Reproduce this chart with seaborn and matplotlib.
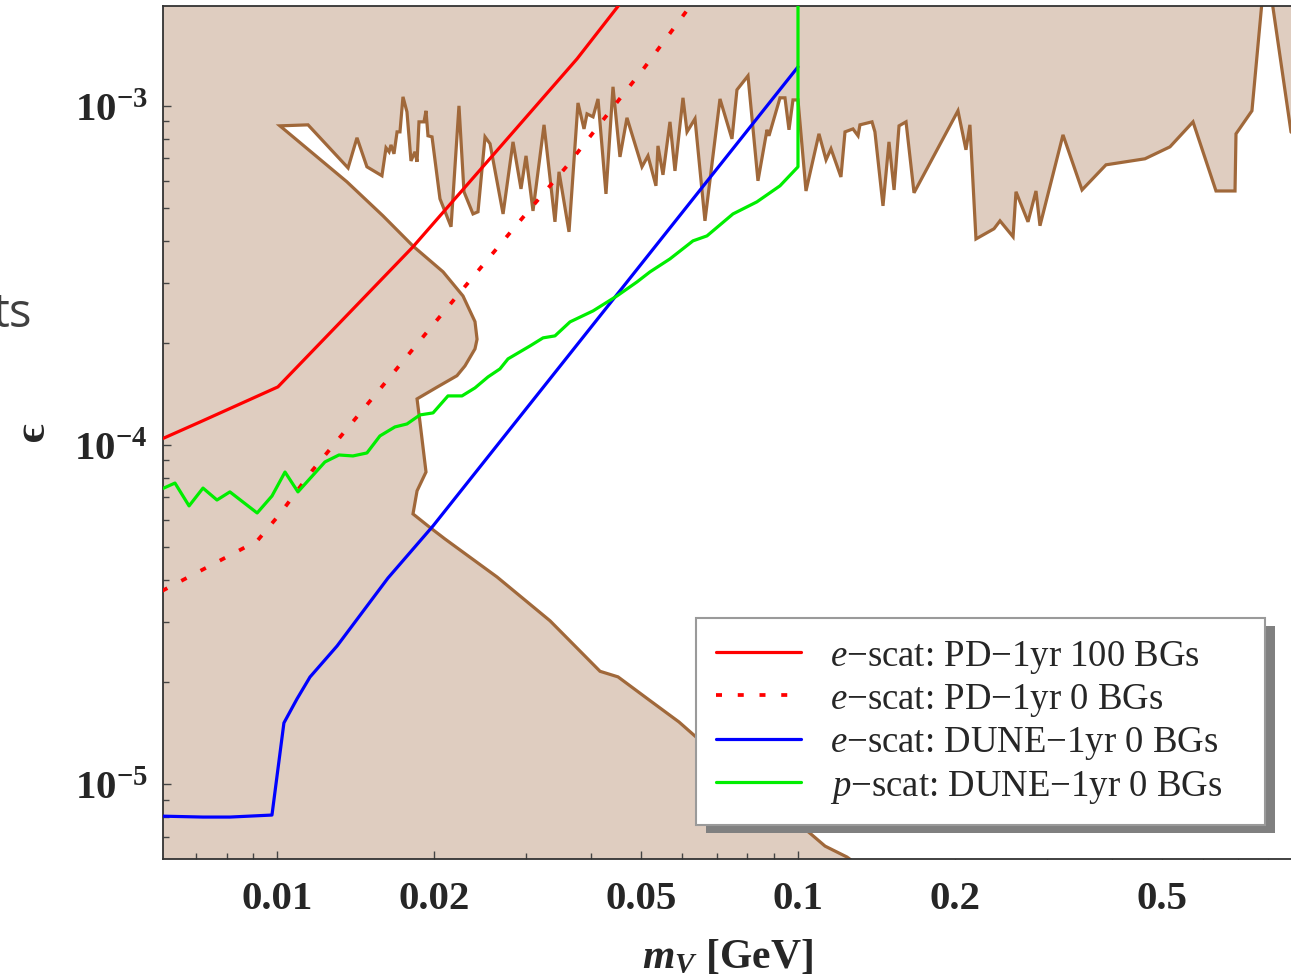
import numpy as np
import pandas as pd
import matplotlib
matplotlib.use("Agg")
import matplotlib.pyplot as plt
import seaborn as sns
from matplotlib.ticker import FixedLocator, NullFormatter
from matplotlib.patches import Rectangle
from matplotlib.transforms import IdentityTransform

# ---------------- data (m_V in GeV, epsilon) ----------------
upper_m = [0.01013, 0.01147, 0.01369, 0.01424, 0.01488, 0.01590, 0.01619, 0.01641, 0.01655, 0.01677,
           0.01700, 0.01722, 0.01745, 0.01776, 0.01808, 0.01840, 0.01857, 0.01873, 0.01915, 0.01932,
           0.01949, 0.01984, 0.02055, 0.02158, 0.02235, 0.02285, 0.02378, 0.02431, 0.02508, 0.02564,
           0.02716, 0.02838, 0.02940, 0.03006, 0.03100, 0.03255, 0.03416, 0.03478, 0.03635, 0.03782,
           0.03884, 0.03936, 0.04042, 0.04132, 0.04280, 0.04415, 0.04553, 0.04696, 0.05018, 0.05153,
           0.05338, 0.05386, 0.05506, 0.05679, 0.05806, 0.06015, 0.06124, 0.06343, 0.06629, 0.07084,
           0.07469, 0.07636, 0.08017, 0.08379, 0.08720, 0.08797, 0.09236, 0.09441, 0.09610, 0.09781,
           0.1000, 0.1036, 0.1097, 0.1132, 0.1157, 0.1209, 0.1231, 0.1275, 0.1304, 0.1315,
           0.1387, 0.1405, 0.1456, 0.1495, 0.1529, 0.1563, 0.1612, 0.1670, 0.2028, 0.2101,
           0.2138, 0.2196, 0.2378, 0.2442, 0.2587, 0.2621, 0.2764, 0.2863, 0.2914, 0.3226,
           0.3509, 0.3901, 0.4634, 0.5176, 0.5731, 0.6344, 0.6900, 0.6930, 0.7436, 0.7910, 0.8837,
           1.0]
upper_eps = [8.73e-4, 8.79e-4, 6.56e-4, 8.05e-4, 6.61e-4, 6.22e-4, 7.52e-4, 7.32e-4, 7.67e-4, 7.22e-4,
             8.38e-4, 8.38e-4, 1.063e-3, 9.60e-4, 6.88e-4, 7.32e-4, 6.84e-4, 8.97e-4, 8.97e-4, 9.67e-4,
             8.16e-4, 8.10e-4, 5.32e-4, 4.40e-4, 1.0e-3, 5.58e-4, 4.80e-4, 4.87e-4, 8.10e-4, 7.73e-4,
             4.80e-4, 7.83e-4, 5.69e-4, 7.12e-4, 4.90e-4, 8.79e-4, 4.55e-4, 6.39e-4, 4.25e-4, 1.020e-3,
             8.55e-4, 9.47e-4, 9.28e-4, 1.048e-3, 5.50e-4, 1.138e-3, 7.07e-4, 9.22e-4, 6.61e-4, 7.12e-4,
             5.81e-4, 7.62e-4, 6.26e-4, 8.97e-4, 6.43e-4, 1.056e-3, 8.38e-4, 9.16e-4, 4.58e-4, 1.048e-3,
             7.99e-4, 1.115e-3, 1.226e-3, 6.01e-4, 8.50e-4, 8.16e-4, 1.056e-3, 1.056e-3, 8.50e-4, 1.041e-3,
             1.041e-3, 5.61e-4, 8.27e-4, 6.93e-4, 7.47e-4, 6.17e-4, 8.38e-4, 8.55e-4, 8.16e-4, 8.79e-4,
             8.97e-4, 8.38e-4, 5.07e-4, 7.83e-4, 5.65e-4, 8.73e-4, 8.97e-4, 5.54e-4, 9.67e-4, 7.42e-4,
             8.79e-4, 4.05e-4, 4.34e-4, 4.58e-4, 4.11e-4, 5.58e-4, 4.55e-4, 5.61e-4, 4.43e-4, 8.21e-4,
             5.65e-4, 6.70e-4, 6.98e-4, 7.57e-4, 8.97e-4, 5.61e-4, 5.61e-4, 8.27e-4, 9.67e-4, 2.71e-3, 8.38e-4,
             7.0e-4]

lower_m = [0.01362, 0.01597, 0.01824, 0.02083, 0.02275, 0.02399, 0.02421, 0.02399, 0.02295, 0.02215,
           0.02028, 0.01857, 0.01881, 0.01932, 0.01857, 0.01824, 0.01949, 0.02101, 0.02644, 0.03342,
           0.04169, 0.04514, 0.05153, 0.05910, 0.06343, 0.07910, 0.1059, 0.1127, 0.1242, 0.1374]
lower_eps = [5.97e-4, 4.74e-4, 3.86e-4, 3.24e-4, 2.75e-4, 2.31e-4, 2.05e-4, 1.92e-4, 1.71e-4, 1.60e-4,
             1.48e-4, 1.367e-4, 1.169e-4, 8.32e-5, 7.32e-5, 6.26e-5, 5.77e-5, 5.28e-5, 4.08e-5, 3.03e-5,
             2.15e-5, 2.07e-5, 1.78e-5, 1.524e-5, 1.385e-5, 1.034e-5, 7.12e-6, 6.56e-6, 6.09e-6, 5.43e-6]

pd100_m = [0.006016, 0.00712, 0.01004, 0.01824, 0.03766, 0.04553, 0.0543]
pd100_eps = [1.042e-4, 1.169e-4, 1.483e-4, 3.84e-4, 1.376e-3, 2.0e-3, 2.9e-3]

pd0_m = [0.006016, 0.00737, 0.00916, 0.01013, 0.01167, 0.01362, 0.01583, 0.01949, 0.02378, 0.02927,
         0.03603, 0.04376, 0.05085, 0.06258, 0.0678]
pd0_eps = [3.71e-5, 4.37e-5, 5.21e-5, 6.26e-5, 8.38e-5, 1.115e-4, 1.473e-4, 2.17e-4, 3.13e-4, 4.58e-4,
           6.65e-4, 9.73e-4, 1.303e-3, 2.0e-3, 2.37e-3]

dune_e_m = [0.006016, 0.00721, 0.00812, 0.00978, 0.01031, 0.01092, 0.01157, 0.01304, 0.01633, 0.01993, 0.1]
dune_e_eps = [8.04e-6, 7.99e-6, 7.99e-6, 8.10e-6, 1.514e-5, 1.781e-5, 2.068e-5, 2.553e-5, 4.05e-5, 5.77e-5, 1.303e-3]

dune_p_m = [0.006016, 0.00637, 0.00678, 0.00721, 0.00767, 0.00812, 0.00916, 0.00978, 0.01036, 0.01097,
            0.01236, 0.01315, 0.01399, 0.01488, 0.01576, 0.01684, 0.01776, 0.01881, 0.01993, 0.02129,
            0.02265, 0.02399, 0.02541, 0.02679, 0.02776, 0.0306, 0.03241, 0.03416, 0.03651, 0.04043,
            0.04494, 0.04909, 0.05198, 0.05679, 0.06287, 0.06688, 0.07502, 0.08339, 0.09236, 0.1, 0.1]
dune_p_eps = [7.42e-5, 7.72e-5, 6.61e-5, 7.46e-5, 6.88e-5, 7.27e-5, 6.30e-5, 7.07e-5, 8.32e-5, 7.27e-5,
              8.91e-5, 9.34e-5, 9.28e-5, 9.47e-5, 1.063e-4, 1.130e-4, 1.153e-4, 1.226e-4, 1.243e-4, 1.395e-4,
              1.395e-4, 1.473e-4, 1.587e-4, 1.676e-4, 1.794e-4, 1.959e-4, 2.069e-4, 2.097e-4, 2.306e-4, 2.485e-4,
              2.751e-4, 3.025e-4, 3.238e-4, 3.537e-4, 3.998e-4, 4.135e-4, 4.80e-4, 5.21e-4, 5.81e-4, 6.61e-4, 3.0e-3]

legend_labels = [r"$e$−scat: PD−1yr 100 BGs", r"$e$−scat: PD−1yr 0 BGs",
                 r"$e$−scat: DUNE−1yr 0 BGs", r"$p$−scat: DUNE−1yr 0 BGs"]

x_major = [0.01, 0.02, 0.05, 0.1, 0.2, 0.5]
x_major_labels = ["0.01", "0.02", "0.05", "0.1", "0.2", "0.5"]
x_minor = [0.007, 0.008, 0.009, 0.03, 0.04, 0.06, 0.07, 0.08, 0.09, 0.3, 0.4, 0.6, 0.7, 0.8]
y_major = [1e-5, 1e-4, 1e-3]
y_major_labels = [r"$\mathbf{10^{-5}}$", r"$\mathbf{10^{-4}}$", r"$\mathbf{10^{-3}}$"]
y_minor = [k * 10.0 ** d for d in (-6, -5, -4, -3) for k in range(2, 10)]

# ---------------- style ----------------
sns.set_theme(style="ticks")
plt.rcParams.update({
    "font.family": ["Liberation Serif", "DejaVu Serif"],
    "mathtext.fontset": "custom",
    "mathtext.rm": "Liberation Serif",
    "mathtext.it": "Liberation Serif:italic",
    "mathtext.bf": "Liberation Serif:bold",
    "mathtext.bfit": "Liberation Serif:italic:bold",
})

FILL = "#dfcdc0"
EDGE = "#a0683a"
W, H = 1291, 978

fig = plt.figure(figsize=(W / 100, H / 100), dpi=100)
ax = fig.add_axes([163 / W, 118 / H, (W - 163) / W, 853 / H])
ax.set_xscale("log")
ax.set_yscale("log")
ax.set_facecolor(FILL)

# allowed (white) region bounded by the excluded regions
poly_m = upper_m + [1.0, 0.15] + lower_m[::-1]
poly_eps = upper_eps + [1e-6, 1e-6] + lower_eps[::-1]
ax.fill(poly_m, poly_eps, facecolor="white", edgecolor=EDGE, linewidth=2.3, zorder=1)

lw = 2.3
sns.lineplot(x=pd100_m, y=pd100_eps, ax=ax, color="#ff0000", sort=False, estimator=None,
             linewidth=lw, zorder=3)
sns.lineplot(x=pd0_m, y=pd0_eps, ax=ax, color="#ff0000", sort=False, estimator=None,
             linewidth=2.7, linestyle=(0, (1.6, 4.2)), zorder=3)
sns.lineplot(x=dune_e_m, y=dune_e_eps, ax=ax, color="#0000ff", sort=False, estimator=None,
             linewidth=lw, zorder=3)
sns.lineplot(x=dune_p_m, y=dune_p_eps, ax=ax, color="#00ee00", sort=False, estimator=None,
             linewidth=lw, zorder=3)

ax.set_xlim(0.006042, 0.8837)
ax.set_ylim(6.01e-6, 1.97e-3)

ax.xaxis.set_major_locator(FixedLocator(x_major))
ax.xaxis.set_minor_locator(FixedLocator(x_minor))
ax.xaxis.set_minor_formatter(NullFormatter())
ax.set_xticklabels(x_major_labels, fontsize=29.5, fontweight="bold")
ax.yaxis.set_major_locator(FixedLocator(y_major))
ax.yaxis.set_minor_locator(FixedLocator(y_minor))
ax.yaxis.set_minor_formatter(NullFormatter())
ax.set_yticklabels(y_major_labels, fontsize=29.5)
ax.set_xlabel("")
ax.set_ylabel("")

ax.tick_params(which="both", direction="in", top=False, right=False, color="#444444", width=1.0)
ax.tick_params(axis="x", which="major", length=6, pad=15)
ax.tick_params(axis="x", which="minor", length=4)
ax.tick_params(axis="y", which="major", length=6, pad=11)
ax.tick_params(axis="y", which="minor", length=4)
for s in ("left", "bottom", "top"):
    ax.spines[s].set_visible(True)
    ax.spines[s].set_color("#333333")
    ax.spines[s].set_linewidth(1.3)
ax.spines["right"].set_visible(False)

# labels
fig.text(728 / W, 1 - 958 / H, r"$\mathbfit{m_V}$ [GeV]", ha="center", va="center",
         fontsize=30, fontweight="bold")
fig.text(33 / W, 1 - 432 / H, "ϵ", rotation=90, ha="center", va="center",
         fontsize=32, fontweight="bold", family=["Liberation Serif", "DejaVu Serif"])
fig.text(32 / W, 1 - 327 / H, "ts", ha="right", va="baseline", fontsize=34,
         color="#404040", family=["Open Sans", "DejaVu Sans"])

# legend
handles = ax.get_lines()[:4]
x0 = (696 - 163) / (W - 163)
x1 = (1265 - 163) / (W - 163)
y0 = (860 - 826) / 853
y1 = (860 - 621) / 853
leg = ax.legend(handles, legend_labels, loc="lower left",
                bbox_to_anchor=(x0, y0, x1 - x0, y1 - y0), mode="expand", borderaxespad=0,
                prop={"family": "Liberation Serif", "size": 26.5}, handlelength=2.3,
                handletextpad=0.8, borderpad=0.55, labelspacing=0.17, frameon=True,
                fancybox=False, framealpha=1, edgecolor="#9a9a9a")
leg.get_frame().set_linewidth(1.5)
leg.set_zorder(6)

fig.canvas.draw()
bb = leg.get_window_extent()
shadow = Rectangle((bb.x0 + 10, bb.y0 - 8), bb.width, bb.height, transform=IdentityTransform(),
                   facecolor="#808080", edgecolor="none", zorder=5.5, clip_on=False)
ax.add_artist(shadow)

fig.savefig("out.png", dpi=100)
